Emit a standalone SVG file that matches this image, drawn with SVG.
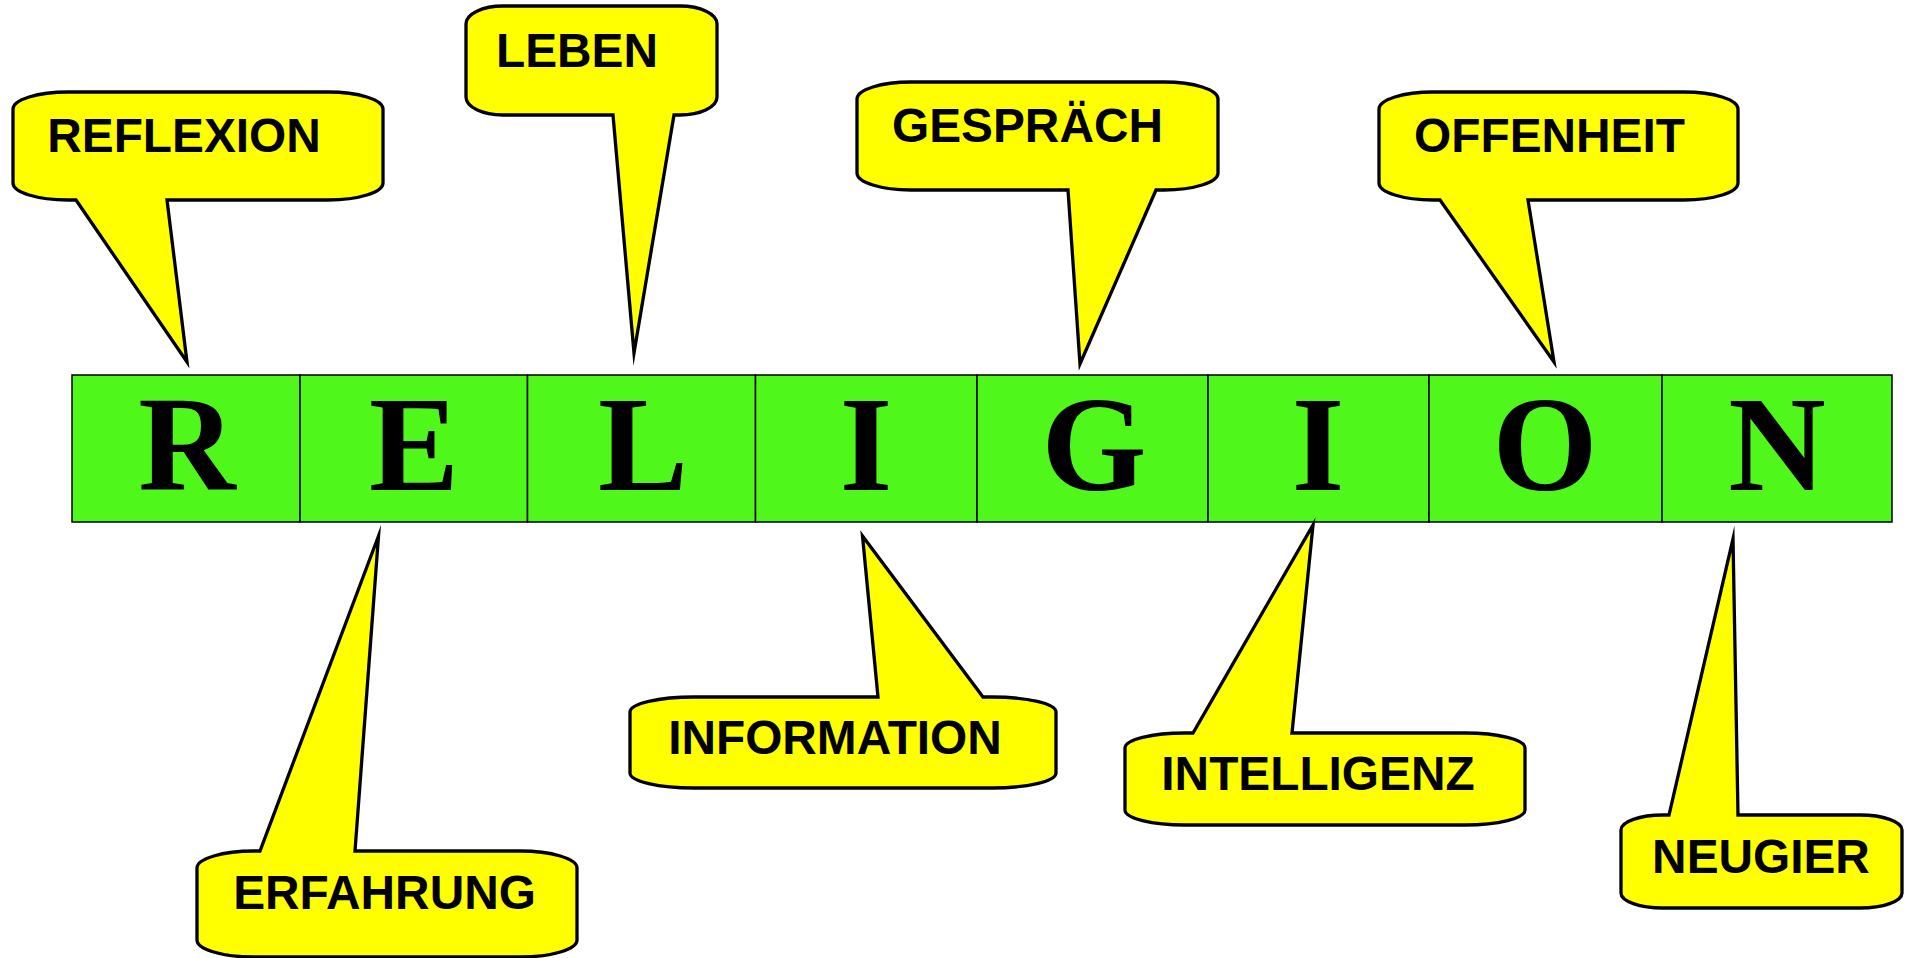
<svg xmlns="http://www.w3.org/2000/svg" width="1905" height="958" viewBox="0 0 1905 958">
  <style>
    .cell { fill: #50F71A; stroke: #000; stroke-width: 1.5; }
    .big { font-family: "Liberation Serif", "Times New Roman", serif; font-weight: bold; font-size: 135px; text-anchor: middle; fill: #000; }
    .bubble { fill: #FFFF00; stroke: #000; stroke-width: 3.3; stroke-linejoin: miter; stroke-miterlimit: 20; }
    .lbl { font-family: "Liberation Sans", Arial, sans-serif; font-weight: bold; font-size: 47.8px; text-anchor: middle; fill: #000; }
  </style>
  <rect width="1905" height="958" fill="#fff"/>

  <!-- the word, one green cell per letter -->
  <g id="word">
    <g id="letter-R"><rect class="cell" x="72" y="375" width="228" height="147"/><text class="big" x="187" y="490">R</text></g>
    <g id="letter-E"><rect class="cell" x="300" y="375" width="227.5" height="147"/><text class="big" x="414" y="490">E</text></g>
    <g id="letter-L"><rect class="cell" x="527.5" y="375" width="228" height="147"/><text class="big" x="643" y="490">L</text></g>
    <g id="letter-I1"><rect class="cell" x="755.5" y="375" width="221.5" height="147"/><text class="big" x="866" y="490">I</text></g>
    <g id="letter-G"><rect class="cell" x="977" y="375" width="231" height="147"/><text class="big" x="1094" y="490">G</text></g>
    <g id="letter-I2"><rect class="cell" x="1208" y="375" width="221" height="147"/><text class="big" x="1318" y="490">I</text></g>
    <g id="letter-O"><rect class="cell" x="1429" y="375" width="233" height="147"/><text class="big" x="1545" y="490">O</text></g>
    <g id="letter-N"><rect class="cell" x="1662" y="375" width="230" height="147"/><text class="big" x="1777" y="490">N</text></g>
  </g>

  <!-- speech-bubble callouts, tail included in each outline -->
  <g id="callout-reflexion">
    <path class="bubble" d="M68,92 H328 A55,17 0 0 1 383,109 V183 A55,17 0 0 1 328,200 H167 L187,362 L76,200 H68 A55,17 0 0 1 13,183 V109 A55,17 0 0 1 68,92 Z"/>
    <text class="lbl" x="184" y="152">REFLEXION</text>
  </g>
  <g id="callout-leben">
    <path class="bubble" d="M503,6 H680 A37,18 0 0 1 717,24 V97 A37,18 0 0 1 680,115 H674 L634,353 L613,115 H503 A37,18 0 0 1 466,97 V24 A37,18 0 0 1 503,6 Z"/>
    <text class="lbl" x="577" y="67">LEBEN</text>
  </g>
  <g id="callout-gespraech">
    <path class="bubble" d="M911,82 H1164 A54,17 0 0 1 1218,99 V173 A54,17 0 0 1 1164,190 H1156 L1080,364 L1068,190 H911 A54,17 0 0 1 857,173 V99 A54,17 0 0 1 911,82 Z"/>
    <text class="lbl" x="1027.5" y="142">GESPRÄCH</text>
  </g>
  <g id="callout-offenheit">
    <path class="bubble" d="M1433,92 H1684 A54,17 0 0 1 1738,109 V183 A54,17 0 0 1 1684,200 H1528 L1554,362 L1440,200 H1433 A54,17 0 0 1 1379,183 V109 A54,17 0 0 1 1433,92 Z"/>
    <text class="lbl" x="1549.5" y="152">OFFENHEIT</text>
  </g>
  <g id="callout-erfahrung">
    <path class="bubble" d="M254,851 H260 L378.5,536 L355,851 H520 A57,17 0 0 1 577,868 V940 A57,17 0 0 1 520,957 H254 A57,17 0 0 1 197,940 V868 A57,17 0 0 1 254,851 Z"/>
    <text class="lbl" x="384.5" y="909">ERFAHRUNG</text>
  </g>
  <g id="callout-information">
    <path class="bubble" d="M694,697 H878 L862.5,536 L983,697 H992 A64,15 0 0 1 1056,712 V773 A64,15 0 0 1 992,788 H694 A64,15 0 0 1 630,773 V712 A64,15 0 0 1 694,697 Z"/>
    <text class="lbl" x="835" y="754">INFORMATION</text>
  </g>
  <g id="callout-intelligenz">
    <path class="bubble" d="M1185,733 H1193 L1313,525 L1292,733 H1465 A60,15 0 0 1 1525,748 V810 A60,15 0 0 1 1465,825 H1185 A60,15 0 0 1 1125,810 V748 A60,15 0 0 1 1185,733 Z"/>
    <text class="lbl" x="1318" y="790">INTELLIGENZ</text>
  </g>
  <g id="callout-neugier">
    <path class="bubble" d="M1663,815 H1669 L1733,539 L1738,815 H1860 A42,15 0 0 1 1902,830 V893 A42,15 0 0 1 1860,908 H1663 A42,15 0 0 1 1621,893 V830 A42,15 0 0 1 1663,815 Z"/>
    <text class="lbl" x="1761" y="873">NEUGIER</text>
  </g>
</svg>
